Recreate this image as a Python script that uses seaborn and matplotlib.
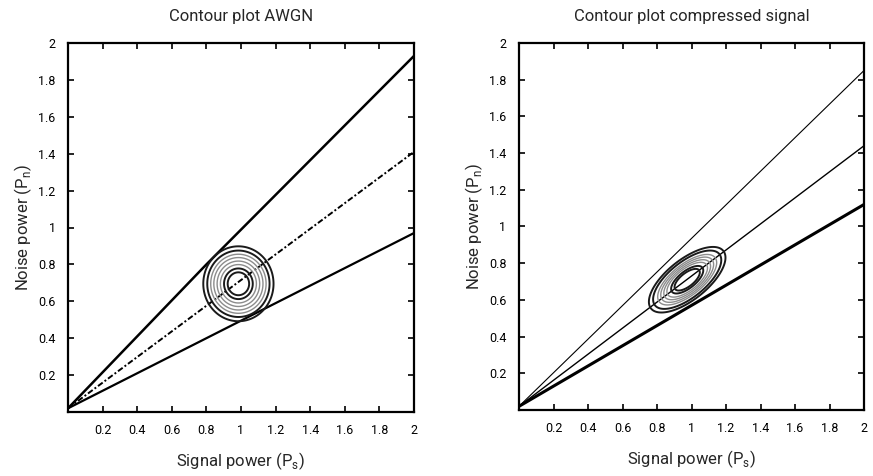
import numpy as np
import pandas as pd
import matplotlib
matplotlib.use("Agg")
import matplotlib.pyplot as plt
import seaborn as sns

# boundary lines (x, y points)
awgn_upper_x = [0.0, 0.4, 0.8, 2.0]
awgn_upper_y = [0.02, 0.41, 0.80, 1.93]
awgn_mid_x = [0.0, 2.0]
awgn_mid_y = [0.02, 1.41]
awgn_lower_x = [0.0, 2.0]
awgn_lower_y = [0.02, 0.97]

comp_upper_x = [0.0, 2.0]
comp_upper_y = [0.02, 1.85]
comp_mid_x = [0.0, 2.0]
comp_mid_y = [0.02, 1.44]
comp_lower_x = [0.0, 2.0]
comp_lower_y = [0.02, 1.12]

# contour rings: centre, ring sizes and ring shades
awgn_center = (0.985, 0.695)
awgn_radii = [0.062, 0.083, 0.104, 0.123, 0.142, 0.16, 0.18, 0.203]
comp_center = (0.975, 0.71)
comp_axes = (0.262, 0.112)     # semi axes of the outer ellipse
comp_angle = 36.0              # degrees, along the middle line
comp_scales = [0.33, 0.42, 0.53, 0.61, 0.69, 0.77, 0.89, 1.0]
ring_colors = ["#1a1a1a", "#1a1a1a", "#8c8c8c", "#8c8c8c",
               "#8c8c8c", "#8c8c8c", "#1a1a1a", "#1a1a1a"]
ring_widths = [1.4, 1.4, 1.0, 1.0, 1.0, 1.0, 1.4, 1.4]

ticks = [0.2, 0.4, 0.6, 0.8, 1.0, 1.2, 1.4, 1.6, 1.8, 2.0]
tick_labels = ["0.2", "0.4", "0.6", "0.8", "1", "1.2", "1.4", "1.6", "1.8", "2"]

sns.set_style("ticks")
plt.rcParams["font.family"] = ["Roboto", "DejaVu Sans"]

fig = plt.figure(figsize=(8.73, 4.76), dpi=100)
ax1 = fig.add_axes([68 / 873, 64 / 476, 346 / 873, 369 / 476])
ax2 = fig.add_axes([519 / 873, 66 / 476, 345 / 873, 367 / 476])

def lines(ax, xs, ys, styles):
    for x, y, st in zip(xs, ys, styles):
        df = pd.DataFrame({"x": x, "y": y})
        sns.lineplot(data=df, x="x", y="y", ax=ax, color="black",
                     sort=False, **st)

lines(ax1, [awgn_upper_x, awgn_mid_x, awgn_lower_x],
      [awgn_upper_y, awgn_mid_y, awgn_lower_y],
      [dict(linewidth=1.8),
       dict(linewidth=1.4, linestyle=(0, (3, 1.2, 1, 1.2))),
       dict(linewidth=1.6)])

lines(ax2, [comp_upper_x, comp_mid_x, comp_lower_x],
      [comp_upper_y, comp_mid_y, comp_lower_y],
      [dict(linewidth=0.8), dict(linewidth=1.0), dict(linewidth=2.2)])

# contour fields
gx, gy = np.meshgrid(np.linspace(0, 2, 600), np.linspace(0, 2, 600))
r = np.hypot(gx - awgn_center[0], gy - awgn_center[1])
ax1.contour(gx, gy, r, levels=awgn_radii, colors=ring_colors,
            linewidths=ring_widths)

th = np.deg2rad(comp_angle)
dx, dy = gx - comp_center[0], gy - comp_center[1]
u = (dx * np.cos(th) + dy * np.sin(th)) / comp_axes[0]
v = (-dx * np.sin(th) + dy * np.cos(th)) / comp_axes[1]
s = np.hypot(u, v)
ax2.contour(gx, gy, s, levels=comp_scales, colors=ring_colors,
            linewidths=ring_widths)

titles = ["Contour plot AWGN", "Contour plot compressed signal"]
for ax, title in zip([ax1, ax2], titles):
    ax.set_xlim(0, 2)
    ax.set_ylim(0, 2)
    ax.set_xticks(ticks)
    ax.set_xticklabels(tick_labels)
    ax.set_yticks(ticks)
    ax.set_yticklabels(tick_labels)
    ax.tick_params(direction="in", length=4, width=1.2, labelsize=9,
                   top=True, right=True, pad=9, colors="black")
    for sp in ax.spines.values():
        sp.set_visible(True)
        sp.set_linewidth(1.6)
        sp.set_color("black")
    ax.set_xlabel("Signal power (P$_\\mathregular{s}$)", fontsize=12, labelpad=9)
    ax.set_ylabel("Noise power (P$_\\mathregular{n}$)", fontsize=12, labelpad=3)
    ax.set_title(title, fontsize=12, pad=16)

fig.savefig("out.png", dpi=100)
